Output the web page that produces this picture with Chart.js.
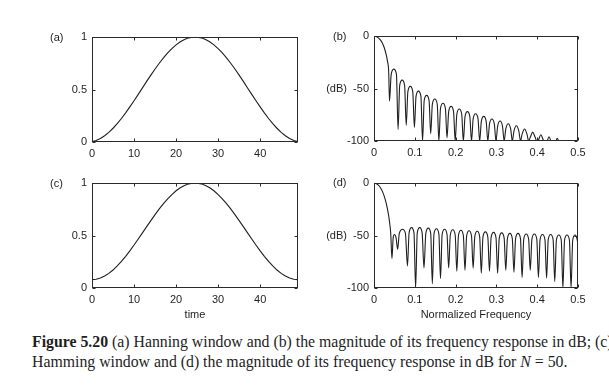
<!DOCTYPE html>
<html>
<head>
<meta charset="utf-8">
<script src="https://cdn.jsdelivr.net/npm/chart.js@4.4.0/dist/chart.umd.min.js"></script>
<style>
  body { margin: 0; background: #fff; width: 609px; height: 388px; overflow: hidden; position: relative; }
  canvas { position: absolute; }
  #caption {
    position: absolute; left: 32px; top: 332px;
    font: 15.8px/20px "Liberation Serif", "Times New Roman", serif;
    color: #1e1e1e; white-space: nowrap;
  }
</style>
</head>
<body>
<canvas id="chartA" width="304" height="165" style="left:0;top:0"></canvas>
<canvas id="chartB" width="305" height="165" style="left:304px;top:0"></canvas>
<canvas id="chartC" width="304" height="160" style="left:0;top:165px"></canvas>
<canvas id="chartD" width="305" height="160" style="left:304px;top:165px"></canvas>
<div id="caption"><b>Figure 5.20</b> (a) Hanning window and (b) the magnitude of its frequency response in dB; (c)<br>Hamming window and (d) the magnitude of its frequency response in dB for <i>N</i> = 50.</div>

<script>
// window samples, n = 0..49
var hanningWindow = [
  0.004, 0.015, 0.034, 0.060, 0.092, 0.131, 0.175, 0.224, 0.277, 0.334,
  0.393, 0.454, 0.515, 0.577, 0.637, 0.695, 0.750, 0.801, 0.848, 0.890,
  0.925, 0.954, 0.977, 0.992, 0.999, 0.999, 0.992, 0.977, 0.954, 0.925,
  0.890, 0.848, 0.801, 0.750, 0.695, 0.637, 0.577, 0.515, 0.454, 0.393,
  0.334, 0.277, 0.224, 0.175, 0.131, 0.092, 0.060, 0.034, 0.015, 0.004
];
var hammingWindow = [
  0.080, 0.084, 0.095, 0.114, 0.139, 0.171, 0.210, 0.253, 0.302, 0.354,
  0.409, 0.467, 0.525, 0.584, 0.642, 0.699, 0.753, 0.803, 0.849, 0.890,
  0.926, 0.954, 0.977, 0.992, 0.999, 0.999, 0.992, 0.977, 0.954, 0.926,
  0.890, 0.849, 0.803, 0.753, 0.699, 0.642, 0.584, 0.525, 0.467, 0.409,
  0.354, 0.302, 0.253, 0.210, 0.171, 0.139, 0.114, 0.095, 0.084, 0.080
];

// magnitude responses (normalized frequency, dB)
var hanningFreq = [
  0, 0.005, 0.010, 0.015, 0.020, 0.025, 0.030, 0.033, 0.036,
  0.038, 0.042, 0.0485, 0.055,
  0.059, 0.063, 0.069, 0.075,
  0.079, 0.083, 0.089, 0.095,
  0.099, 0.103, 0.109, 0.115,
  0.119, 0.123, 0.129, 0.135,
  0.139, 0.143, 0.149, 0.155,
  0.159, 0.163, 0.169, 0.175,
  0.179, 0.183, 0.189, 0.195,
  0.199, 0.203, 0.209, 0.215,
  0.219, 0.223, 0.229, 0.235,
  0.239, 0.243, 0.249, 0.255,
  0.259, 0.263, 0.269, 0.275,
  0.279, 0.283, 0.289, 0.295,
  0.299, 0.303, 0.309, 0.315,
  0.319, 0.323, 0.329, 0.335,
  0.339, 0.343, 0.349, 0.355,
  0.359, 0.363, 0.369, 0.375,
  0.379, 0.383, 0.389, 0.395,
  0.399, 0.403, 0.409, 0.415,
  0.419, 0.423, 0.429, 0.435,
  0.439, 0.443, 0.449, 0.455,
  0.459
];
var hanningDb = [
  0, -0.4, -1.5, -3.5, -6.5, -11, -18, -24, -34,
  -62, -37, -31.5, -36.5,
  -89, -47, -42, -47,
  -85, -53, -48, -53,
  -87, -57.5, -52.5, -57.5,
  -100, -61.5, -56.5, -61.5,
  -93, -65, -60, -65,
  -100, -69, -64, -69,
  -97, -72, -67, -72,
  -100, -74.5, -69.5, -74.5,
  -100, -77, -72, -77,
  -100, -79, -74, -79,
  -100, -81.5, -76.5, -81.5,
  -100, -84, -79, -84,
  -100, -86, -81, -86,
  -100, -88.5, -83.5, -88.5,
  -100, -90.5, -85.5, -90.5,
  -100, -93.5, -88.5, -93.5,
  -100, -96.5, -91.5, -96.5,
  -100, -99, -94, -99,
  -100, -101, -96, -101,
  -100, -102.5, -97.5, -102.5,
  -105
];

var hammingFreq = [
  0, 0.005, 0.010, 0.015, 0.020, 0.025, 0.030, 0.035, 0.039, 0.041,
  0.044, 0.047, 0.050, 0.054,
  0.058, 0.062, 0.070, 0.077,
  0.082, 0.086, 0.092, 0.098,
  0.102, 0.106, 0.112, 0.118,
  0.1225, 0.127, 0.133, 0.139,
  0.143, 0.147, 0.153, 0.159,
  0.163, 0.167, 0.173, 0.179,
  0.183, 0.187, 0.193, 0.199,
  0.203, 0.207, 0.213, 0.219,
  0.223, 0.227, 0.233, 0.239,
  0.243, 0.247, 0.253, 0.259,
  0.263, 0.267, 0.273, 0.279,
  0.283, 0.287, 0.293, 0.299,
  0.303, 0.307, 0.313, 0.319,
  0.323, 0.327, 0.333, 0.339,
  0.343, 0.347, 0.353, 0.359,
  0.363, 0.367, 0.373, 0.379,
  0.383, 0.387, 0.393, 0.399,
  0.403, 0.407, 0.413, 0.419,
  0.423, 0.427, 0.433, 0.439,
  0.443, 0.447, 0.453, 0.459,
  0.463, 0.467, 0.473, 0.479,
  0.483, 0.487, 0.493, 0.498,
  0.5
];
var hammingDb = [
  0, -0.4, -1.8, -4, -7.5, -12.5, -19.5, -29, -40, -48,
  -72, -52, -49, -52,
  -63, -48, -44, -48,
  -79, -47.5, -42.5, -47.5,
  -100, -47.5, -42.5, -47.5,
  -81, -48, -43, -48,
  -96, -48.5, -43.5, -48.5,
  -91, -49, -44, -49,
  -81, -49.5, -44.5, -49.5,
  -84, -50, -45, -50,
  -83, -50.5, -45.5, -50.5,
  -81, -51, -46, -51,
  -86, -51.5, -46.5, -51.5,
  -84, -52, -47, -52,
  -86, -52.5, -47.5, -52.5,
  -83, -53, -48, -53,
  -85, -53, -48, -53,
  -90, -53.5, -48.5, -53.5,
  -83, -53.5, -48.5, -53.5,
  -90, -54, -49, -54,
  -90.5, -54, -49, -54,
  -94, -54.5, -49.5, -54.5,
  -100, -54.5, -49.5, -54.5,
  -100, -54.5, -49.5, -54,
  -60
];

var sampleTicks = [0, 10, 20, 30, 40];
var freqTicks = [0, 0.1, 0.2, 0.3, 0.4, 0.5];
var windowTicks = [0, 0.5, 1];
var dbTicks = [-100, -50, 0];

var inkColor = '#1f1f1f';
var labelFont = { family: '"Liberation Sans", Arial, sans-serif', size: 11 };

function toPoints(xs, ys) {
  return ys.map(function(y, i) { return { x: xs[i], y: y }; });
}
function indexPoints(ys) {
  return ys.map(function(y, i) { return { x: i, y: y }; });
}

// box round the plot area, inward tick marks on all four sides, panel letter
var frameTicks = {
  id: 'frameTicks',
  afterDraw: function(chart, args, opts) {
    var ctx = chart.ctx, a = chart.chartArea;
    var xs = chart.scales.x, ys = chart.scales.y;
    var l = Math.round(a.left) + 0.5, r = Math.round(a.right) - 0.5;
    var t = Math.round(a.top) + 0.5, b = Math.round(a.bottom) - 0.5;
    var len = 3;
    ctx.save();
    ctx.strokeStyle = '#2a2a2a';
    ctx.lineWidth = 1;
    ctx.strokeRect(l, t, r - l, b - t);
    ctx.beginPath();
    xs.ticks.forEach(function(tk) {
      var px = Math.round(xs.getPixelForValue(tk.value)) + 0.5;
      ctx.moveTo(px, b); ctx.lineTo(px, b - len);
      ctx.moveTo(px, t); ctx.lineTo(px, t + len);
    });
    ys.ticks.forEach(function(tk) {
      var py = Math.round(ys.getPixelForValue(tk.value)) + 0.5;
      ctx.moveTo(l, py); ctx.lineTo(l + len, py);
      ctx.moveTo(r, py); ctx.lineTo(r - len, py);
    });
    ctx.stroke();
    ctx.fillStyle = inkColor;
    ctx.font = '11px "Liberation Sans", Arial, sans-serif';
    ctx.textBaseline = 'middle';
    ctx.fillText(opts.label, opts.labelX, opts.labelY);
    ctx.restore();
  }
};

function makePanel(id, cfg) {
  var ctx = document.getElementById(id).getContext('2d');
  return new Chart(ctx, {
    type: 'line',
    data: {
      datasets: [{
        data: cfg.points,
        borderColor: inkColor,
        borderWidth: 1.1,
        pointRadius: 0,
        fill: false,
        tension: 0,
        cubicInterpolationMode: cfg.smooth ? 'monotone' : 'default'
      }]
    },
    options: {
      responsive: false,
      animation: false,
      devicePixelRatio: 1,
      layout: { padding: { top: cfg.padTop, right: cfg.padRight, left: 0, bottom: 0 } },
      plugins: {
        legend: { display: false },
        tooltip: { enabled: false },
        frameTicks: { label: cfg.label, labelX: cfg.labelX, labelY: cfg.labelY }
      },
      scales: {
        x: {
          type: 'linear',
          min: cfg.xMin, max: cfg.xMax,
          grid: { display: false, drawTicks: false },
          border: { display: false },
          afterBuildTicks: function(s) { s.ticks = cfg.xTicks.map(function(v) { return { value: v }; }); },
          afterFit: function(s) { s.height = cfg.xHeight; },
          ticks: {
            padding: 5, font: labelFont, color: inkColor,
            maxRotation: 0, autoSkip: false,
            callback: function(v) { return String(v); }
          },
          title: {
            display: !!cfg.xTitle, text: cfg.xTitle || '',
            font: labelFont, color: inkColor, padding: { top: 0, bottom: 3 }
          }
        },
        y: {
          type: 'linear',
          min: cfg.yMin, max: cfg.yMax,
          grid: { display: false, drawTicks: false },
          border: { display: false },
          afterBuildTicks: function(s) { s.ticks = cfg.yTicks.map(function(v) { return { value: v }; }); },
          afterFit: function(s) { s.width = cfg.yWidth; },
          ticks: {
            padding: 5, font: labelFont, color: inkColor, autoSkip: false,
            callback: cfg.yLabel || function(v) { return String(v); }
          }
        }
      }
    },
    plugins: [frameTicks]
  });
}

function dbLabel(v) { return v === -50 ? '(dB)  -50' : String(v); }

makePanel('chartA', {
  points: indexPoints(hanningWindow), smooth: false,
  xMin: 0, xMax: 49, xTicks: sampleTicks, yMin: 0, yMax: 1, yTicks: windowTicks,
  padTop: 37, padRight: 6, yWidth: 92, xHeight: 23,
  label: '(a)', labelX: 50, labelY: 38
});
makePanel('chartB', {
  points: toPoints(hanningFreq, hanningDb), smooth: true,
  xMin: 0, xMax: 0.5, xTicks: freqTicks, yMin: -100, yMax: 0, yTicks: dbTicks, yLabel: dbLabel,
  padTop: 36, padRight: 31, yWidth: 70, xHeight: 24,
  label: '(b)', labelX: 29, labelY: 37
});
makePanel('chartC', {
  points: indexPoints(hammingWindow), smooth: false,
  xMin: 0, xMax: 49, xTicks: sampleTicks, yMin: 0, yMax: 1, yTicks: windowTicks,
  padTop: 18, padRight: 6, yWidth: 92, xHeight: 37, xTitle: 'time',
  label: '(c)', labelX: 50, labelY: 19
});
makePanel('chartD', {
  points: toPoints(hammingFreq, hammingDb), smooth: true,
  xMin: 0, xMax: 0.5, xTicks: freqTicks, yMin: -100, yMax: 0, yTicks: dbTicks, yLabel: dbLabel,
  padTop: 18, padRight: 31, yWidth: 70, xHeight: 37, xTitle: 'Normalized Frequency',
  label: '(d)', labelX: 29, labelY: 18
});
</script>
</body>
</html>
